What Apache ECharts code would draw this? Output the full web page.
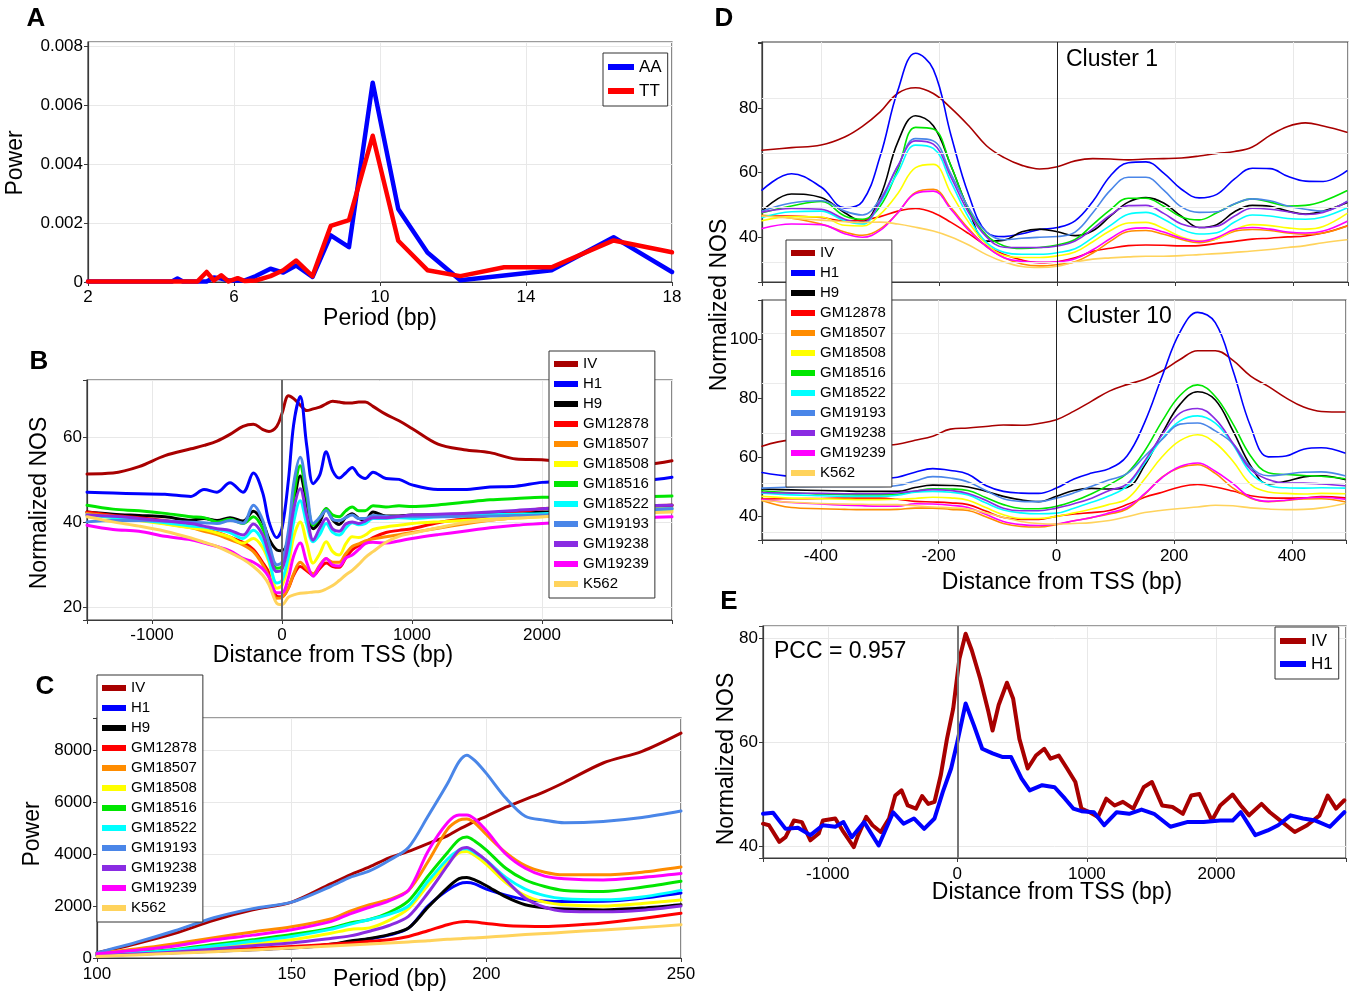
<!DOCTYPE html>
<html>
<head>
<meta charset="utf-8">
<script src="https://cdn.jsdelivr.net/npm/echarts@6/dist/echarts.min.js"></script>
<style>html,body{margin:0;padding:0;background:#fff}#c{width:1349px;height:993px}</style>
</head>
<body>
<div id="c"></div>
<script>
// ---------------- DATA ----------------
// Panel A: periodogram of AA / TT
const xA  = [2, 4.3, 4.45, 4.6, 5.0, 5.25, 5.45, 5.65, 5.85, 6.1, 6.3, 6.6, 7.0, 7.35, 7.7, 8.15, 8.65, 9.15, 9.8, 10.5, 11.3, 12.2, 13.4, 14.7, 16.4, 18];
const aAA = [0.00002,0.00002,0.00012,0.00002,0.00002,0.00002,0.00015,0.00012,0.00005,0.00005,0.00006,0.0002,0.00045,0.00032,0.00056,0.00017,0.00158,0.00118,0.00676,0.00248,0.001,0.00006,0.00022,0.0004,0.00152,0.00034];
const aTT = [0.00002,0.00002,0.00002,0.00002,0.00002,0.00034,0.00005,0.00023,0.00002,0.00013,0.00003,0.00005,0.0002,0.0004,0.00073,0.0002,0.0019,0.0021,0.00496,0.0014,0.0004,0.0002,0.0005,0.0005,0.00141,0.00101];

// Panel B: normalized NOS around TSS
const xB = [-1500,-1300,-1100,-900,-700,-600,-500,-400,-300,-220,-150,-100,-40,0,50,90,140,190,240,290,340,390,440,490,540,590,640,700,800,900,1000,1200,1400,1600,1800,2000,2200,2400,2600,2800,3000];
const bIV      = [51.3,51.5,53.0,55.6,57.2,58.0,59.0,60.6,62.5,63.0,61.8,61.3,62.5,65.5,69.7,69.0,67.5,66.2,66.6,67.0,67.8,68.4,68.2,68.0,68.0,68.2,68.2,67.2,65.3,63.8,62.0,58.3,57.0,56.3,54.8,54.6,54.0,53.8,53.6,53.6,54.4];
const bH1      = [47.0,46.8,46.6,46.5,46.0,47.6,47.0,49.2,47.0,51.5,47.0,40.0,36.3,38.5,50.0,63.0,69.5,58.0,49.0,51.0,56.5,52.0,50.3,51.5,52.8,51.0,50.2,51.7,50.2,50.0,48.7,47.6,47.6,48.2,48.4,49.3,49.5,49.6,49.7,49.8,50.5];
const bH9      = [42.3,41.8,41.5,41.2,40.4,40.8,40.3,41.0,40.2,42.5,40.0,36.0,33.4,33.2,36.0,44.0,50.8,44.5,38.4,40.0,43.1,40.5,39.4,41.0,41.9,40.8,40.4,42.3,41.4,41.4,41.6,41.6,41.8,42.0,42.2,42.3,42.6,43.0,43.3,43.6,43.9];
const bGM12878 = [42.3,41.5,41.0,40.3,39.3,38.4,37.5,36.4,35.2,33.5,30.5,28.0,22.5,22.4,24.5,27.5,29.5,28.5,27.4,29.0,30.3,29.5,29.3,31.5,33.4,34.4,35.2,36.3,37.5,38.0,38.4,39.8,40.7,41.5,42.2,43.1,43.3,43.5,43.6,43.8,43.9];
const bGM18507 = [42.0,41.3,40.5,39.6,38.6,37.8,37.0,35.8,34.6,33.0,30.0,27.0,22.0,22.2,24.5,27.8,30.5,29.0,27.8,29.8,31.3,30.5,30.5,32.5,34.2,34.8,35.5,36.0,36.5,37.0,37.5,38.5,39.5,40.4,41.0,41.7,42.0,42.3,42.6,42.9,43.2];
const bGM18508 = [41.6,41.0,40.3,39.5,38.6,38.2,37.4,36.4,35.0,36.1,34.0,30.5,24.4,25.0,30.0,36.5,40.0,35.0,30.3,32.5,35.3,33.0,32.2,34.8,36.5,36.3,36.9,38.2,38.8,39.2,39.6,40.0,40.3,40.6,40.9,41.2,41.5,41.8,42.1,42.4,42.7];
const bGM18516 = [43.9,43.0,42.6,42.0,41.2,41.0,40.0,40.6,39.6,41.2,38.5,34.0,29.1,29.5,36.0,46.0,53.2,46.0,39.2,41.0,43.1,41.6,41.2,42.6,43.5,42.6,42.6,43.8,43.5,43.8,43.6,44.0,44.6,45.2,45.5,45.8,45.8,45.9,46.0,46.0,46.1];
const bGM18522 = [41.6,41.0,40.4,39.8,39.0,38.8,38.2,37.5,36.1,38.0,35.5,31.0,25.6,26.2,32.0,40.0,45.0,39.5,35.3,37.0,39.6,37.5,36.9,38.5,39.8,39.3,39.6,40.8,40.8,41.0,40.8,41.2,41.5,41.7,41.8,41.9,42.2,42.4,42.7,42.9,43.1];
const bGM19193 = [40.0,40.3,40.3,40.2,39.9,39.8,39.6,40.3,39.7,43.9,40.5,35.0,29.9,30.5,38.0,49.0,55.2,47.5,39.6,41.0,42.7,40.6,40.3,41.0,41.6,40.8,40.8,41.5,41.3,41.2,41.2,41.2,41.3,41.4,41.5,41.6,41.9,42.2,42.5,42.8,43.1];
const bGM19238 = [41.6,41.3,40.8,40.2,39.6,39.0,38.4,38.0,36.9,39.5,37.0,32.5,28.3,28.8,35.0,43.0,47.8,41.5,35.7,38.5,40.8,38.3,37.8,39.5,40.0,39.6,40.2,41.0,41.0,41.3,41.6,41.8,42.0,42.3,42.7,43.1,43.3,43.5,43.7,43.8,43.9];
const bGM19239 = [39.2,38.2,37.8,36.6,35.8,35.0,34.2,33.2,31.4,30.5,29.0,27.0,23.3,23.3,27.0,32.0,35.0,30.5,27.2,29.5,31.4,29.8,29.6,31.5,32.2,33.5,34.9,35.2,35.0,35.5,36.1,37.0,37.8,38.6,39.2,39.6,40.0,40.4,40.7,41.0,41.2];
const bK562    = [41.2,40.0,39.0,37.8,36.2,35.2,34.2,32.8,31.2,29.5,27.5,25.2,20.8,20.5,22.3,22.8,23.2,23.3,23.5,23.6,24.2,25.0,26.2,27.5,28.6,30.0,31.6,33.0,35.2,36.6,37.3,38.6,39.8,40.4,40.9,41.2,41.5,41.7,41.9,42.1,42.3];

// Panel C: power vs period
const xC = [100,110,120,130,140,150,160,165,170,175,180,185,190,193,195,197,200,205,210,215,220,230,240,250];
const cIV      = [200,550,950,1450,1850,2150,2850,3200,3500,3850,4100,4400,4700,4950,5100,5250,5450,5800,6100,6400,6750,7500,7950,8650];
const cH1      = [100,140,200,260,320,380,510,630,730,880,1150,2000,2600,2850,2900,2850,2650,2420,2250,2190,2170,2180,2300,2500];
const cH9      = [100,150,210,270,330,390,530,650,750,900,1150,1950,2700,3050,3100,3000,2780,2350,2050,1930,1880,1850,1920,2050];
const cGM12878 = [130,200,260,310,370,440,530,580,640,700,830,1050,1280,1380,1400,1380,1330,1250,1220,1210,1240,1350,1520,1720];
const cGM18507 = [190,350,550,780,1000,1200,1500,1800,2050,2250,2600,3700,4950,5300,5350,5200,4750,4050,3550,3300,3200,3200,3300,3500];
const cGM18508 = [110,180,260,400,560,700,950,1100,1160,1450,1900,2800,3650,4050,4100,3950,3600,2900,2400,2150,2050,2000,2100,2230];
const cGM18516 = [130,220,330,520,700,900,1150,1350,1480,1750,2200,3150,4050,4550,4650,4500,4150,3450,3000,2750,2600,2560,2720,2950];
const cGM18522 = [120,200,300,460,640,830,1100,1300,1480,1680,2000,2950,3800,4150,4200,4050,3750,3100,2650,2400,2280,2240,2350,2600];
const cGM19193 = [200,600,1050,1550,1900,2150,2750,3100,3350,3750,4250,5450,6700,7550,7800,7600,7100,6150,5450,5300,5200,5250,5400,5650];
const cGM19238 = [90,150,230,350,470,580,750,850,1030,1250,1600,2500,3550,4150,4250,4100,3750,3000,2300,1950,1800,1780,1840,2000];
const cGM19239 = [160,300,460,700,880,1090,1400,1700,1950,2200,2600,4100,5200,5500,5500,5350,4900,4000,3450,3150,3050,3000,3100,3250];
const cK562    = [60,120,180,240,310,380,460,500,540,580,620,660,720,740,760,770,800,850,900,940,990,1080,1170,1280];

// Panel D: clusters 1 and 10
const xD = [-500,-450,-400,-360,-330,-300,-270,-240,-210,-180,-150,-120,-90,-60,-30,0,30,60,90,120,150,180,210,240,270,300,330,360,390,420,450,490];
const d1IV      = [66.9,67.7,68.5,71.0,74.3,78.8,84.6,86.3,84.5,80.0,74.5,68.3,64.6,62.2,61.1,61.8,63.6,64.3,64.2,63.9,64.2,64.3,64.5,65.1,65.9,66.5,67.9,71.5,74.3,75.4,74.4,72.5];
const d1H1      = [54.5,59.6,55.5,49.0,51.0,65.0,85.5,97.0,92.0,71.5,53.0,41.5,40.1,41.0,42.3,42.9,45.0,51.0,59.0,63.0,63.3,59.8,54.8,52.1,53.2,58.0,61.3,61.2,58.8,57.3,57.2,60.5];
const d1H9      = [48.0,53.3,52.2,47.5,44.8,52.5,69.5,77.6,74.5,62.0,48.3,38.7,39.0,41.6,42.4,41.6,40.4,41.9,46.5,50.8,52.2,50.5,46.4,42.9,43.8,47.8,49.8,49.5,48.0,47.1,48.0,50.6];
const d1GM12878 = [46.5,46.5,46.0,45.0,45.2,46.3,48.0,48.8,47.5,44.5,41.0,37.2,34.5,32.8,32.0,32.3,33.5,35.5,36.5,37.3,37.5,37.4,37.2,37.3,38.0,38.6,39.3,39.6,40.0,40.3,41.2,43.4];
const d1GM18507 = [46.7,45.8,44.0,41.5,40.5,42.5,47.5,53.8,54.8,49.0,42.5,37.0,33.5,31.6,31.0,31.4,32.3,35.0,38.7,41.7,42.0,40.8,39.2,38.2,39.4,41.8,42.3,42.0,41.2,40.8,41.2,43.3];
const d1GM18508 = [45.0,46.3,46.2,43.6,43.4,47.0,53.5,61.5,62.5,53.5,44.5,37.8,34.2,33.6,33.6,34.1,35.3,38.5,42.0,44.3,44.5,42.6,40.0,38.8,39.4,42.2,43.8,43.5,42.8,42.4,43.2,47.2];
const d1GM18516 = [47.5,49.6,51.0,46.5,45.5,49.5,61.0,74.0,73.5,62.0,48.5,40.5,37.2,36.4,36.7,37.5,39.2,43.8,48.5,52.0,52.0,49.5,46.2,45.3,47.5,50.2,51.8,50.8,49.6,49.8,51.1,54.3];
const d1GM18522 = [46.0,47.8,48.0,45.0,44.0,50.5,60.0,68.5,67.5,57.0,46.0,38.3,35.2,34.6,34.6,35.1,36.3,39.8,43.6,47.0,47.6,45.5,42.4,40.9,41.3,44.6,46.8,46.5,45.7,45.5,46.2,49.0];
const d1GM19193 = [48.0,50.5,51.2,48.0,46.8,51.8,62.0,70.5,69.8,59.5,49.0,41.5,39.1,39.6,39.9,40.1,41.5,47.5,54.5,58.5,58.5,54.5,49.3,47.6,47.8,50.3,51.8,51.2,49.6,48.6,48.0,51.0];
const d1GM19238 = [47.7,48.8,48.6,45.5,44.5,51.0,62.0,69.8,68.8,58.5,47.5,40.0,36.8,36.7,36.7,37.2,38.7,42.5,46.8,49.7,49.8,47.3,44.0,42.9,43.3,46.5,48.9,48.6,47.8,47.0,47.6,50.9];
const d1GM19239 = [42.6,44.0,43.8,41.0,39.9,42.0,47.5,53.5,54.2,48.5,42.0,37.0,33.5,32.4,32.1,32.3,33.2,36.0,39.5,42.4,42.8,41.5,39.6,38.6,39.8,42.3,42.9,42.4,41.5,41.2,41.8,44.8];
const d1K562    = [46.5,45.8,45.2,44.7,44.5,44.6,44.0,43.0,41.8,40.0,37.5,34.5,32.2,30.8,30.5,30.9,32.2,33.1,33.5,33.8,34.0,34.0,34.2,34.5,34.8,35.2,35.6,36.1,36.7,37.3,38.2,39.1];

const d2IV      = [63.8,65.8,65.5,64.9,64.5,64.2,64.5,65.8,67.2,69.6,70.0,70.5,71.0,70.9,71.5,72.8,75.7,79.1,82.5,84.7,86.5,89.4,93.2,96.2,96.2,92.9,87.6,84.1,80.2,77.1,75.6,75.4];
const d2H1      = [54.9,53.6,53.4,53.0,52.8,52.8,53.3,55.0,56.2,55.6,54.3,50.5,48.5,47.9,47.8,49.6,52.7,54.7,56.2,60.5,71.9,87.7,102.5,109.2,105.7,89.5,70.5,60.2,60.5,62.8,63.3,61.5];
const d2H9      = [49.3,49.0,48.8,48.6,48.5,48.5,48.5,49.8,50.6,50.5,50.0,48.5,46.8,45.6,45.0,46.8,48.8,49.5,49.3,49.8,57.3,68.3,78.0,82.3,79.5,69.0,57.2,51.0,51.9,53.4,53.8,52.5];
const d2GM12878 = [45.9,46.0,46.1,46.2,46.2,46.2,45.8,45.1,44.9,44.6,44.0,41.8,39.6,39.0,39.0,40.0,40.8,41.3,42.0,44.0,46.5,48.2,50.0,50.8,50.0,48.6,47.0,46.3,46.2,46.3,46.7,46.3];
const d2GM18507 = [45.4,43.0,42.6,42.4,42.3,42.3,42.4,42.8,42.8,42.4,42.0,39.9,37.6,36.6,36.4,37.2,38.5,39.6,40.8,42.5,47.5,53.4,56.6,57.5,54.6,49.6,46.2,45.0,45.4,45.9,46.0,45.0];
const d2GM18508 = [46.8,46.2,46.0,45.8,45.7,45.7,45.8,46.1,46.5,46.3,45.5,43.0,40.6,39.3,39.3,40.0,41.2,42.5,44.1,45.9,52.7,60.3,65.7,67.7,64.9,58.7,50.9,48.3,47.8,47.6,47.8,47.7];
const d2GM18516 = [48.7,48.0,47.6,47.4,47.3,47.3,47.5,48.5,49.4,49.3,48.8,46.4,44.0,42.7,42.6,43.4,45.2,47.7,50.8,54.6,62.2,72.4,81.0,84.6,80.7,71.4,60.5,54.8,54.2,53.9,53.6,52.8];
const d2GM18522 = [47.9,47.3,47.0,46.8,46.8,46.8,47.2,48.2,48.5,48.2,47.3,44.6,42.2,41.2,40.9,41.1,42.8,44.8,47.0,50.3,58.1,66.4,72.4,74.1,71.6,64.3,54.7,50.6,49.7,49.6,49.7,49.6];
const d2GM19193 = [49.6,50.0,50.2,50.2,50.2,50.2,50.5,52.0,53.5,53.0,51.7,48.8,46.0,45.1,45.0,46.2,48.0,50.2,52.4,54.5,60.4,66.2,71.3,71.7,69.0,64.7,56.7,53.8,54.3,55.0,55.1,53.8];
const d2GM19238 = [48.1,47.9,47.8,47.7,47.7,47.7,48.0,48.6,49.1,48.8,47.8,45.5,42.8,41.9,41.9,42.8,44.3,46.2,48.8,51.0,58.8,67.8,75.0,76.6,73.0,64.8,55.9,52.5,51.3,51.3,51.0,50.4];
const d2GM19239 = [45.7,44.7,44.2,43.8,43.6,43.5,43.5,44.3,44.2,43.8,43.0,40.7,38.3,37.2,36.9,37.4,38.5,39.6,41.2,43.0,47.7,53.2,56.9,58.1,55.3,51.1,46.4,45.1,45.5,46.2,46.5,45.8];
const d2K562    = [45.4,44.8,44.4,44.2,44.1,44.0,44.0,43.6,43.2,42.9,42.5,41.2,39.7,38.3,37.6,37.4,37.6,37.9,38.6,39.9,41.3,42.1,42.7,43.2,43.8,43.6,42.9,42.5,42.3,42.4,42.9,44.4];

// Panel E: [distance, NOS]
const eIV = [[-1500,44.3],[-1454,44.0],[-1374,40.8],[-1326,41.7],[-1262,44.9],[-1200,44.6],[-1134,41.1],[-1070,42.4],[-1038,44.9],[-942,45.3],[-879,42.7],[-799,39.8],[-767,42.0],[-703,45.6],[-655,44.0],[-591,42.7],[-527,45.3],[-479,49.7],[-431,50.7],[-383,47.8],[-319,47.2],[-272,49.6],[-224,48.1],[-176,48.5],[-128,53.6],[-80,60.6],[-32,66.4],[16,76.0],[64,80.8],[112,77.6],[176,72.2],[240,65.8],[272,62.2],[319,67.1],[383,71.4],[431,68.3],[479,60.6],[543,54.9],[607,57.4],[671,58.7],[719,56.8],[783,57.4],[847,54.9],[911,52.3],[958,47.2],[1022,46.5],[1086,45.6],[1150,49.1],[1214,47.8],[1278,48.5],[1358,47.2],[1438,51.3],[1502,52.3],[1581,47.8],[1661,47.5],[1741,46.2],[1805,49.7],[1869,50.0],[1965,44.9],[2029,47.8],[2125,49.9],[2188,47.8],[2252,45.9],[2348,48.1],[2412,46.5],[2508,44.6],[2604,42.7],[2700,44.0],[2796,45.9],[2859,49.7],[2923,47.2],[2987,48.8]];
const eH1 = [[-1500,46.2],[-1422,46.4],[-1326,43.3],[-1230,43.5],[-1134,42.1],[-1038,44.0],[-942,43.7],[-879,44.6],[-815,41.7],[-719,44.6],[-607,40.1],[-495,46.5],[-415,44.3],[-335,45.3],[-256,43.3],[-176,45.3],[-112,50.4],[-48,54.9],[0,60.0],[64,67.4],[128,63.2],[192,58.7],[272,57.8],[351,57.1],[415,57.1],[495,53.0],[559,50.7],[655,51.7],[751,51.3],[831,49.1],[895,47.2],[958,46.7],[1054,46.5],[1134,44.0],[1230,46.5],[1326,46.2],[1422,47.0],[1518,46.2],[1645,43.7],[1773,44.6],[1901,44.6],[2029,44.9],[2125,44.9],[2188,46.5],[2300,42.1],[2396,43.0],[2476,44.0],[2572,45.9],[2668,45.3],[2764,44.9],[2875,43.7],[2987,46.5]];

const NAMES = ['IV','H1','H9','GM12878','GM18507','GM18508','GM18516','GM18522','GM19193','GM19238','GM19239','K562'];
const COL = {AA:'#0000ff', TT:'#ff0000', IV:'#a80000', H1:'#0000ff', H9:'#000000', GM12878:'#ff0000', GM18507:'#ff8c00', GM18508:'#ffff00', GM18516:'#00e600', GM18522:'#00ffff', GM19193:'#4a86e8', GM19238:'#8a2be2', GM19239:'#ff00ff', K562:'#ffd35c'};

// ---------------- BUILD ----------------
const FONT = "'Liberation Sans', Arial, Helvetica, sans-serif";
function clean(o){ if(Array.isArray(o)) return o.map(clean); if(o && typeof o==='object'){ const r={}; for(const k in o){ if(o[k]!==undefined) r[k]=clean(o[k]); } return r;} return o; }
const pair = (xs, ys) => xs.map((x,i)=>[x, ys[i]]);

const grid = [
  {left:88, top:42, width:584, height:240},
  {left:87, top:380, width:585, height:240},
  {left:97, top:718, width:584, height:240},
  {left:762, top:42, width:586, height:240},
  {left:762, top:300, width:586, height:240},
  {left:763, top:626, width:585, height:232}
].map(g=>Object.assign({show:true, borderColor:'#3a3a3a', borderWidth:1.2, backgroundColor:'#fff'}, g));

function ax(gi, min, max, o){
  o = o || {};
  return clean({
    type:'value', gridIndex:gi, min:min, max:max, interval:o.interval, splitNumber:o.splitNumber,
    axisLine:{show:true, onZero:false, lineStyle:{color:'#3a3a3a', width:1.2}},
    axisTick:{show:true, length:4, lineStyle:{color:'#3a3a3a'}},
    axisLabel:{show:o.labels!==false, color:'#000', fontSize:17, fontFamily:FONT, margin:o.margin||6, formatter:o.fmt},
    splitLine:{show:o.split!==false, lineStyle:{color:'#e8e8e8', width:1}}
  });
}
const only = (vals) => (v) => vals.indexOf(Math.round(v))>=0 ? String(Math.round(v)) : '';

const xAxis = [
  ax(0, 2, 18, {interval:4, margin:7, fmt: v => String(v)}),
  ax(1, -1500, 3000, {splitNumber:5, margin:7, fmt: only([-1000,0,1000,2000])}),
  ax(2, 100, 250, {interval:50, margin:8, fmt: v => String(v)}),
  ax(3, -500, 492, {splitNumber:5, labels:false}),
  ax(4, -500, 492, {splitNumber:5, margin:8, fmt: only([-400,-200,0,200,400])}),
  ax(5, -1500, 3000, {splitNumber:5, margin:8, fmt: only([-1000,0,1000,2000])})
];
const yAxis = [
  ax(0, 0, 0.00814, {interval:0.002, margin:5, fmt: v => v===0 ? '0' : v.toFixed(3)}),
  ax(1, 16.9, 73.4, {splitNumber:3, margin:5, fmt: only([20,40,60])}),
  ax(2, 0, 9230, {interval:2000, margin:5, fmt: only([0,2000,4000,6000,8000])}),
  ax(3, 26.0, 100.5, {splitNumber:4, margin:4, split:false, fmt: only([40,60,80])}),
  ax(4, 32.0, 113.4, {splitNumber:4, margin:4, split:false, fmt: only([40,60,80,100])}),
  ax(5, 37.7, 82.3, {splitNumber:2, margin:5, fmt: only([40,60,80])})
];

function line(name, data, gi, w, smooth){
  return {type:'line', name:name, xAxisIndex:gi, yAxisIndex:gi, data:data, showSymbol:false, symbol:'none',
    smooth:smooth, z:3, lineStyle:{width:w, color:COL[name], join:'round', cap:'round'}, itemStyle:{color:COL[name]}, emphasis:{disabled:true}};
}
function guide(gi, items){
  return {type:'line', name:'_guide'+gi, xAxisIndex:gi, yAxisIndex:gi, data:[], z:1, silent:true,
    markLine:{silent:true, symbol:'none', label:{show:false}, animation:false, data:items}};
}
const vline = (color, w) => ({xAxis:0, lineStyle:{color:color, width:w, type:'solid'}});
const hline = (v) => ({yAxis:v, lineStyle:{color:'#ebebeb', width:1, type:'solid'}});

const B = {IV:bIV,H1:bH1,H9:bH9,GM12878:bGM12878,GM18507:bGM18507,GM18508:bGM18508,GM18516:bGM18516,GM18522:bGM18522,GM19193:bGM19193,GM19238:bGM19238,GM19239:bGM19239,K562:bK562};
const C = {IV:cIV,H1:cH1,H9:cH9,GM12878:cGM12878,GM18507:cGM18507,GM18508:cGM18508,GM18516:cGM18516,GM18522:cGM18522,GM19193:cGM19193,GM19238:cGM19238,GM19239:cGM19239,K562:cK562};
const D1 = {IV:d1IV,H1:d1H1,H9:d1H9,GM12878:d1GM12878,GM18507:d1GM18507,GM18508:d1GM18508,GM18516:d1GM18516,GM18522:d1GM18522,GM19193:d1GM19193,GM19238:d1GM19238,GM19239:d1GM19239,K562:d1K562};
const D2 = {IV:d2IV,H1:d2H1,H9:d2H9,GM12878:d2GM12878,GM18507:d2GM18507,GM18508:d2GM18508,GM18516:d2GM18516,GM18522:d2GM18522,GM19193:d2GM19193,GM19238:d2GM19238,GM19239:d2GM19239,K562:d2K562};

const series = [
  guide(1, [vline('#6a6a6a', 2)]),
  guide(3, [hline(83.1), hline(66.05), hline(49.3), hline(32.25), vline('#222', 1)]),
  guide(4, [hline(102.2), hline(85.25), hline(68.3), hline(51.3), hline(34.6), vline('#222', 1)]),
  guide(5, [vline('#777', 2)]),
  line('AA', pair(xA, aAA), 0, 4.5, false),
  line('TT', pair(xA, aTT), 0, 4.5, false)
];
NAMES.forEach(n => series.push(line(n, pair(xB, B[n]), 1, 3, 0.35)));
NAMES.forEach(n => series.push(line(n, pair(xC, C[n]), 2, 3, 0.3)));
NAMES.forEach(n => series.push(line(n, pair(xD, D1[n]), 3, 1.6, 0.4)));
NAMES.forEach(n => series.push(line(n, pair(xD, D2[n]), 4, 1.6, 0.4)));
series.push(line('IV', eIV, 5, 4, false));
series.push(line('H1', eH1, 5, 4, false));

function legend(names, left, top, fs, iw, gap){
  return {orient:'vertical', left:left, top:top, data:names, icon:'rect', itemWidth:iw, itemHeight:6, itemGap:gap,
    padding:[5,6,6,5], backgroundColor:'#fff', borderColor:'#333', borderWidth:1, borderRadius:0, selectedMode:false,
    itemStyle:{borderWidth:0}, lineStyle:{width:0},
    textStyle:{fontSize:fs, fontFamily:FONT, color:'#000', lineHeight:fs+1}, z:10};
}
const legends = [
  legend(['AA','TT'], 603, 53, 17, 26, 6),
  legend(NAMES, 549, 351, 15, 24, 4),
  legend(NAMES, 97, 675, 15, 24, 4),
  legend(NAMES, 786, 240, 15, 24, 4),
  legend(['IV','H1'], 1275, 627, 17, 26, 5)
];

function txt(s, x, y, size, o){
  o = o || {};
  return {type:'text', x:x, y:y, rotation:o.rot||0, z:20, silent:true,
    style:{text:s, fontSize:size, fontWeight:o.bold?'bold':'normal', fontFamily:FONT, fill:'#000', align:o.align||'center', verticalAlign:'middle'}};
}
const R = Math.PI/2;
const graphic = [
  txt('A', 36, 19, 26, {bold:true}), txt('B', 39, 362, 26, {bold:true}), txt('C', 45, 687, 26, {bold:true}),
  txt('D', 724, 19, 26, {bold:true}), txt('E', 729, 602, 26, {bold:true}),
  txt('Power', 16, 163, 23, {rot:R}), txt('Period (bp)', 380, 319, 23),
  txt('Normalized NOS', 40, 503, 23, {rot:R}), txt('Distance from TSS (bp)', 333, 656, 23),
  txt('Power', 33, 834, 23, {rot:R}), txt('Period (bp)', 390, 980, 23),
  txt('Normalized NOS', 720, 305, 23, {rot:R}), txt('Distance from TSS (bp)', 1062, 583, 23),
  txt('Normalized NOS', 727, 759, 23, {rot:R}), txt('Distance from TSS (bp)', 1052, 893, 23),
  txt('Cluster 1', 1066, 60, 23, {align:'left'}), txt('Cluster 10', 1067, 317, 23, {align:'left'}),
  txt('PCC = 0.957', 774, 652, 23, {align:'left'})
];

const chart = echarts.init(document.getElementById('c'), null, {renderer:'canvas'});
chart.setOption({animation:false, backgroundColor:'#fff', grid:grid, xAxis:xAxis, yAxis:yAxis, series:series, legend:legends, graphic:graphic});
</script>
</body>
</html>
